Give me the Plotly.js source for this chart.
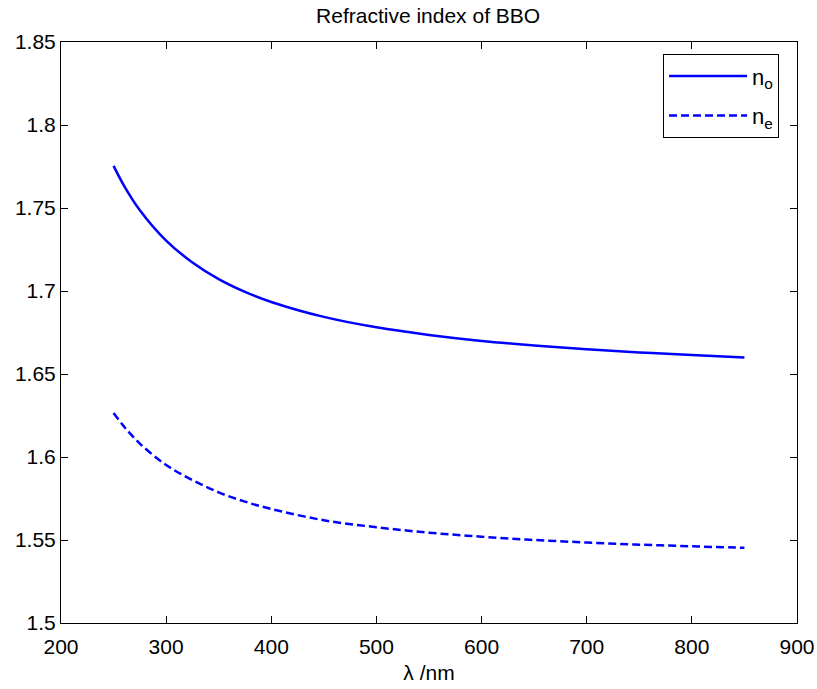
<!DOCTYPE html>
<html>
<head>
<meta charset="utf-8">
<script src="https://cdn.plot.ly/plotly-3.0.1.min.js"></script>
<style>body{margin:0;padding:0;background:#fff}</style>
</head>
<body>
<div id="chart" style="width:817px;height:689px"></div>
<script>
// wavelength in nm
var wavelength = [250, 260, 275, 300, 325, 350, 375, 400, 450, 500, 550, 600, 650, 700, 750, 800, 850];
// ordinary refractive index n_o
var nO = [1.7754, 1.7634, 1.7487, 1.7304, 1.7172, 1.7072, 1.6995, 1.6934, 1.6844, 1.6781, 1.6735, 1.6699, 1.6672, 1.6649, 1.6630, 1.6614, 1.6599];
// extraordinary refractive index n_e
var nE = [1.6265, 1.6183, 1.6081, 1.5952, 1.5861, 1.5787, 1.5731, 1.5687, 1.5619, 1.5577, 1.5544, 1.5520, 1.5500, 1.5485, 1.5472, 1.5462, 1.5453];
var xTicks = [200, 300, 400, 500, 600, 700, 800, 900];
var yTicks = [1.5, 1.55, 1.6, 1.65, 1.7, 1.75, 1.8, 1.85];
var yTickText = ['1.5', '1.55', '1.6', '1.65', '1.7', '1.75', '1.8', '1.85'];

var font = 'Liberation Sans, Arial, sans-serif';
var traces = [
  {x: wavelength, y: nO, mode: 'lines', name: 'n<sub>o</sub>', legendgroup: 'a',
   line: {color: '#0000ff', width: 2.5, shape: 'spline'}},
  {x: wavelength, y: nE, mode: 'lines', name: 'n<sub>e</sub>', legendgroup: 'b',
   line: {color: '#0000ff', width: 2.5, dash: '8px,4px', shape: 'spline'}}
];
var axisCommon = {
  showline: true, linecolor: '#000', linewidth: 1, mirror: 'allticks',
  ticks: 'inside', ticklen: 7, tickcolor: '#000', tickwidth: 1,
  showgrid: false, zeroline: false,
  tickfont: {family: font, size: 21, color: '#000'}
};
var layout = {
  width: 817, height: 689,
  margin: {l: 61, r: 20, t: 42, b: 66},
  paper_bgcolor: '#fff', plot_bgcolor: '#fff',
  title: {text: 'Refractive index of BBO', font: {family: font, size: 21, color: '#000'}, x: 0.524, xanchor: 'center', y: 0.978, yanchor: 'middle'},
  xaxis: Object.assign({}, axisCommon, {range: [200, 900], tickvals: xTicks, ticktext: xTicks.map(String),
    ticklabelstandoff: 5,
    title: {text: 'λ /nm', font: {family: font, size: 21, color: '#000'}, standoff: 8}}),
  yaxis: Object.assign({}, axisCommon, {range: [1.5, 1.85], tickvals: yTicks, ticktext: yTickText}),
  showlegend: true,
  legend: {x: 0.9756, y: 0.979, xanchor: 'right', yanchor: 'top', bordercolor: '#000', borderwidth: 1,
    bgcolor: '#fff', font: {family: font, size: 22, color: '#000'}, itemwidth: 78, tracegroupgap: 8,
    traceorder: 'grouped'}
};
Plotly.newPlot('chart', traces, layout, {displayModeBar: false, staticPlot: true});
</script>
</body>
</html>
